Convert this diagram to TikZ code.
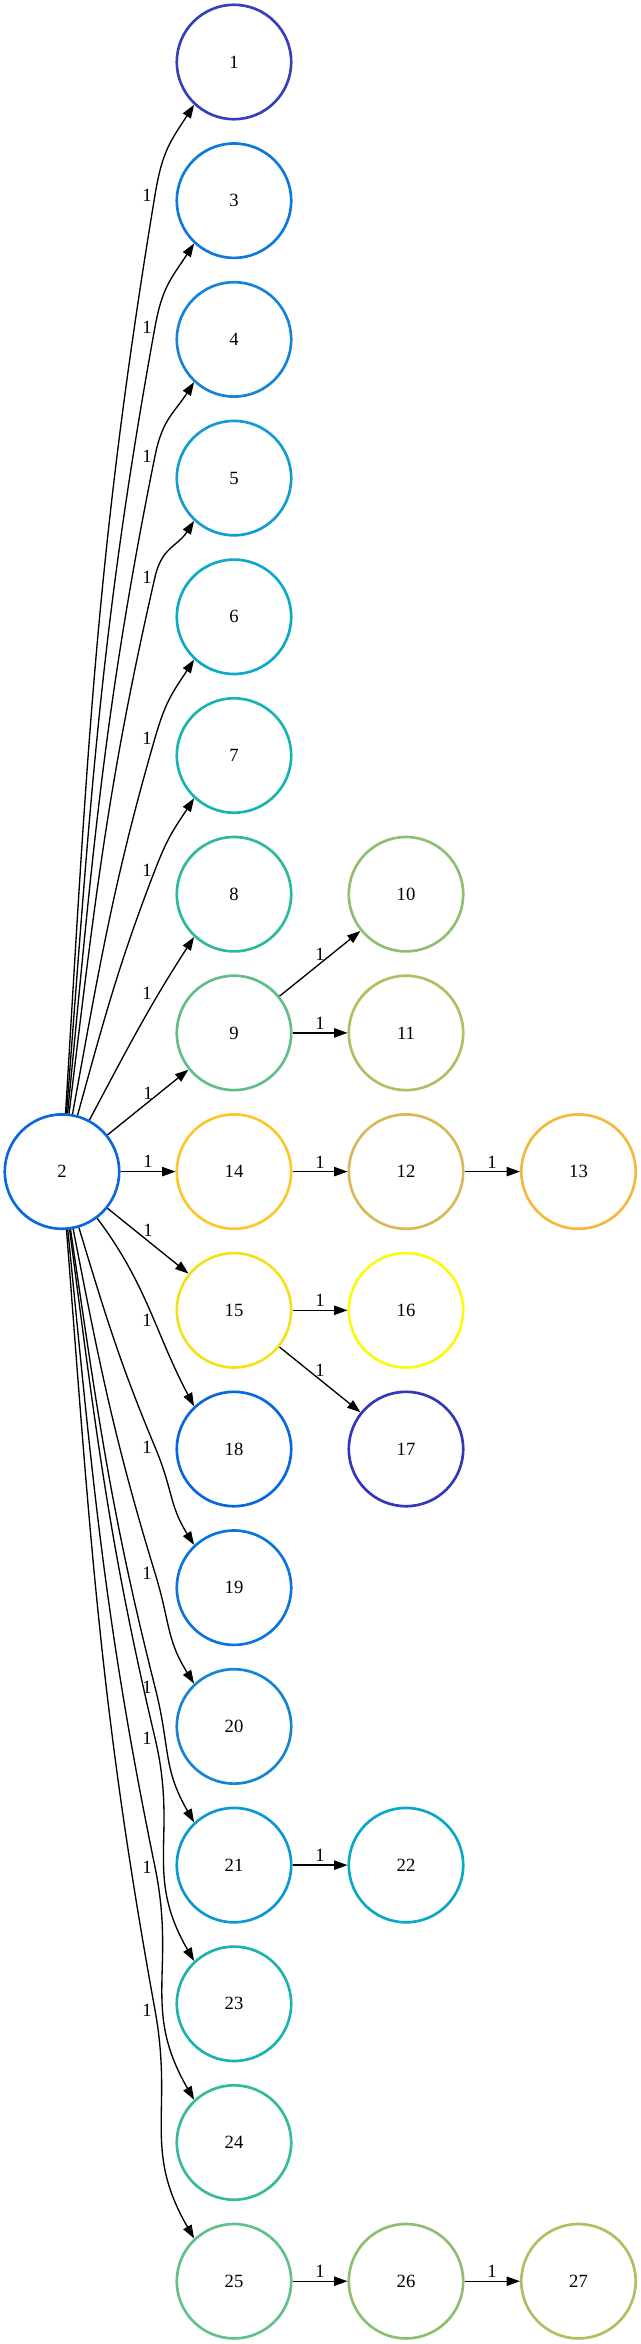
\documentclass[tikz,border=0pt]{standalone}
\usepackage{fontspec}
\setmainfont{Liberation Serif}
\usetikzlibrary{arrows.meta}
\definecolor{c1}{HTML}{3541BA}
\definecolor{c2}{HTML}{0868DC}
\definecolor{c3}{HTML}{0D79DB}
\definecolor{c4}{HTML}{1683D6}
\definecolor{c5}{HTML}{139CD3}
\definecolor{c6}{HTML}{0BAAC9}
\definecolor{c7}{HTML}{1AB3B4}
\definecolor{c8}{HTML}{2DB99E}
\definecolor{c9}{HTML}{60BF88}
\definecolor{c10}{HTML}{8EBF70}
\definecolor{c11}{HTML}{B2BE62}
\definecolor{c12}{HTML}{D8B859}
\definecolor{c13}{HTML}{F6B83C}
\definecolor{c14}{HTML}{FDC72C}
\definecolor{c15}{HTML}{F4E11E}
\definecolor{c16}{HTML}{FAFA0F}
\definecolor{c17}{HTML}{3239B6}
\definecolor{c18}{HTML}{0866DE}
\definecolor{c19}{HTML}{0C74DA}
\definecolor{c20}{HTML}{1485D5}
\definecolor{c21}{HTML}{0D98D2}
\definecolor{c22}{HTML}{08A8C8}
\definecolor{c23}{HTML}{1CB2B0}
\definecolor{c24}{HTML}{35BA9C}
\definecolor{c25}{HTML}{62C08A}
\definecolor{c26}{HTML}{8EBF71}
\definecolor{c27}{HTML}{B3BD62}
\begin{document}
\begin{tikzpicture}[x=0.75pt,y=0.75pt,
  nd/.style={circle, draw=#1, line width=2pt, minimum size=85.8pt, inner sep=0pt, font=\fontsize{14}{16}\selectfont},
  e/.style={line width=1pt, -{Triangle[length=10pt,width=7pt]}},
  lbl/.style={font=\fontsize{14}{16}\selectfont, inner sep=0pt}]
\useasboundingbox (0,0) rectangle (641,-2344);
% column 0
\node[nd=c2] (n2) at (62,-1171.6) {2};
% column 1
\node[nd=c1] (n1) at (234,-62) {1};
\node[nd=c3] (n3) at (234,-200.7) {3};
\node[nd=c4] (n4) at (234,-339.4) {4};
\node[nd=c5] (n5) at (234,-478.1) {5};
\node[nd=c6] (n6) at (234,-616.8) {6};
\node[nd=c7] (n7) at (234,-755.5) {7};
\node[nd=c8] (n8) at (234,-894.2) {8};
\node[nd=c9] (n9) at (234,-1032.9) {9};
\node[nd=c14] (n14) at (234,-1171.6) {14};
\node[nd=c15] (n15) at (234,-1310.3) {15};
\node[nd=c18] (n18) at (234,-1449) {18};
\node[nd=c19] (n19) at (234,-1587.7) {19};
\node[nd=c20] (n20) at (234,-1726.4) {20};
\node[nd=c21] (n21) at (234,-1865.1) {21};
\node[nd=c23] (n23) at (234,-2003.8) {23};
\node[nd=c24] (n24) at (234,-2142.5) {24};
\node[nd=c25] (n25) at (234,-2281.2) {25};
% column 2
\node[nd=c10] (n10) at (406,-894.2) {10};
\node[nd=c11] (n11) at (406,-1032.9) {11};
\node[nd=c12] (n12) at (406,-1171.6) {12};
\node[nd=c16] (n16) at (406,-1310.3) {16};
\node[nd=c17] (n17) at (406,-1449) {17};
\node[nd=c22] (n22) at (406,-1865.1) {22};
\node[nd=c26] (n26) at (406,-2281.2) {26};
% column 3
\node[nd=c13] (n13) at (578.5,-1171.6) {13};
\node[nd=c27] (n27) at (578.5,-2281.2) {27};

% upper fan edges
\coordinate (v1) at (155,-195);
\coordinate (v3) at (155,-327);
\coordinate (v4) at (155,-456);
\coordinate (v5) at (155,-577);
\coordinate (v6) at (155,-738);
\coordinate (v7) at (155,-870);
\draw[e] (n2) to[out=86.6,in=260.6] (v1) to[out=80.6,in=237,looseness=1.15] (n1.227);
\draw[e] (n2) to[out=85.7,in=259.7] (v3) to[out=79.7,in=237,looseness=1.15] (n3.227);
\draw[e] (n2) to[out=84.6,in=258.6] (v4) to[out=78.6,in=237,looseness=1.15] (n4.227);
\draw[e] (n2) to[out=83.1,in=257.1] (v5) to[out=77.1,in=237,looseness=1.15] (n5.227);
\draw[e] (n2) to[out=79.9,in=253.9] (v6) to[out=73.9,in=237,looseness=1.15] (n6.227);
\draw[e] (n2) to[out=74.9,in=248.9] (v7) to[out=68.9,in=237,looseness=1.15] (n7.227);
\draw[e] (n2) to[out=62,in=237] (n8.227);
\node[lbl] (l1) at (147,-195) {1};
\node[lbl] (l3) at (147,-327) {1};
\node[lbl] (l4) at (147,-456) {1};
\node[lbl] (l5) at (147,-577) {1};
\node[lbl] (l6) at (147,-738) {1};
\node[lbl] (l7) at (147,-870) {1};
\node[lbl] (l8) at (147,-993) {1};

% straight edges from 2
\draw[e] (n2) -- (n9);
\draw[e] (n2) -- (n14);
\draw[e] (n2) -- (n15);
\node[lbl] (l9) at (148,-1093) {1};
\node[lbl] (l14) at (148,-1161) {1};
\node[lbl] (l15) at (148,-1230) {1};

% lower fan edges
\coordinate (v19) at (155,-1447);
\coordinate (v20) at (155,-1573);
\coordinate (v21) at (155,-1687);
\coordinate (v23) at (155,-1738);
\coordinate (v24) at (155,-1867);
\coordinate (v25) at (155,-2010);
\draw[e] (n2) to[out=-53,in=118] (n18.133);
\draw[e] (n2) to[out=-73.3,in=112.7] (v19) to[out=-67.3,in=122,looseness=1.15] (n19.133);
\draw[e] (n2) to[out=-79,in=107] (v20) to[out=-73,in=122,looseness=1.15] (n20.133);
\draw[e] (n2) to[out=-81.8,in=104.2] (v21) to[out=-75.8,in=120,looseness=1.15] (n21.133);
\draw[e] (n2) to[out=-82.7,in=103.3] (v23) to[out=-76.7,in=120,looseness=1.15] (n23.133);
\draw[e] (n2) to[out=-84.4,in=101.6] (v24) to[out=-78.4,in=120,looseness=1.15] (n24.133);
\draw[e] (n2) to[out=-85.7,in=100.3] (v25) to[out=-79.7,in=120,looseness=1.15] (n25.133);
\node[lbl] (l18) at (147,-1320) {1};
\node[lbl] (l19) at (147,-1447) {1};
\node[lbl] (l20) at (147,-1573) {1};
\node[lbl] (l21) at (147,-1687) {1};
\node[lbl] (l23) at (147,-1738) {1};
\node[lbl] (l24) at (147,-1867) {1};
\node[lbl] (l25) at (147,-2010) {1};

% other edges
\draw[e] (n9) -- (n10);
\draw[e] (n9) -- (n11);
\draw[e] (n14) -- (n12);
\draw[e] (n12) -- (n13);
\draw[e] (n15) -- (n16);
\draw[e] (n15) -- (n17);
\draw[e] (n21) -- (n22);
\draw[e] (n25) -- (n26);
\draw[e] (n26) -- (n27);
\node[lbl] (l10) at (320,-954) {1};
\node[lbl] (l11) at (320,-1023) {1};
\node[lbl] (l12) at (320,-1162) {1};
\node[lbl] (l13) at (492,-1162) {1};
\node[lbl] (l16) at (320,-1300) {1};
\node[lbl] (l17) at (320,-1370) {1};
\node[lbl] (l22) at (320,-1855) {1};
\node[lbl] (l26) at (320,-2271) {1};
\node[lbl] (l27) at (492,-2271) {1};
\end{tikzpicture}
\end{document}
